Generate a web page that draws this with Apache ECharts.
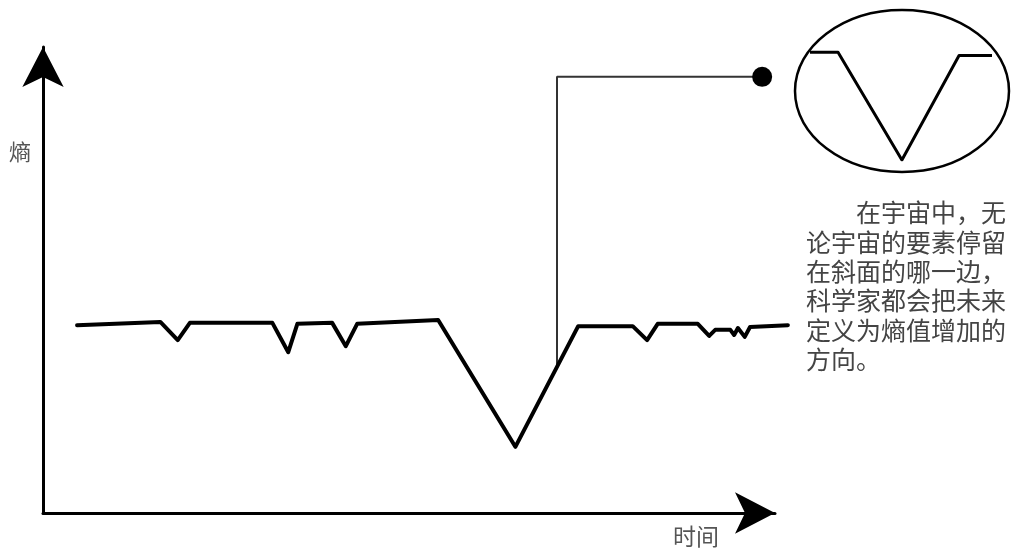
<!DOCTYPE html>
<html>
<head>
<meta charset="utf-8">
<script src="https://cdn.jsdelivr.net/npm/echarts@6/dist/echarts.min.js"></script>
<style>html,body{margin:0;padding:0;background:#fff}#c{width:1013px;height:557px}</style>
</head>
<body>
<div id="c"></div>
<script>
// Entropy over time (arbitrary units 0-100)
const timeValues = [4.5, 15.5, 17.8, 19.4, 30.3, 32.4, 33.6, 38.2, 40.0, 41.5, 52.2, 62.4, 70.7, 77.9, 79.8, 81.2, 86.5, 88.0, 88.8, 90.8, 91.3, 91.8, 92.7, 93.4, 98.4];
const entropyValues = [40.3, 41.0, 37.1, 40.8, 40.8, 34.5, 40.6, 40.8, 35.8, 40.6, 41.4, 14.2, 40.1, 40.1, 37.1, 40.6, 40.6, 38.0, 39.3, 39.3, 38.2, 39.7, 37.8, 39.9, 40.3];
// callout from the big dip (time, entropy)
const calloutTime = [67.9, 67.9, 95.0];
const calloutEntropy = [31.5, 93.6, 93.6];
// magnified inset of the dip
const insetX = [0, 15.4, 50.5, 81.9, 100];
const insetY = [98, 98, 0, 95, 95];
const yAxisLabel = '熵';
const xAxisLabel = '时间';
const noteLines = ['　　在宇宙中，无', '论宇宙的要素停留', '在斜面的哪一边，', '科学家都会把未来', '定义为熵值增加的', '方向。'];

const FONT = '"Noto Sans CJK SC", sans-serif';
const zip = (a, b) => a.map((v, i) => [v, b[i]]);
const hiddenAxis = (gi) => ({ type: 'value', gridIndex: gi, min: 0, max: 100, show: false });

const chart = echarts.init(document.getElementById('c'));
chart.setOption({
  animation: false,
  backgroundColor: '#fff',
  grid: [
    { left: 43, top: 47, right: 238, bottom: 44 },
    { left: 43, top: 47, right: 213, bottom: 44 },
    { left: 810, top: 50, right: 21, bottom: 397 }
  ],
  xAxis: [
    { type: 'value', gridIndex: 0, min: 0, max: 100,
      axisLine: { show: true, onZero: false, symbol: ['none', 'arrow'], symbolSize: [31, 40], lineStyle: { color: '#000', width: 3 } },
      axisTick: { show: false }, axisLabel: { show: false }, splitLine: { show: false } },
    hiddenAxis(1), hiddenAxis(2)
  ],
  yAxis: [
    { type: 'value', gridIndex: 0, min: 0, max: 100,
      axisLine: { show: true, onZero: false, symbol: ['none', 'arrow'], symbolSize: [31, 40], lineStyle: { color: '#000', width: 3 } },
      axisTick: { show: false }, axisLabel: { show: false }, splitLine: { show: false } },
    hiddenAxis(1), hiddenAxis(2)
  ],
  series: [
    { type: 'line', xAxisIndex: 1, yAxisIndex: 1, data: zip(timeValues, entropyValues), showSymbol: false,
      lineStyle: { color: '#000', width: 4, join: 'round', cap: 'round' } },
    { type: 'line', xAxisIndex: 1, yAxisIndex: 1, data: zip(calloutTime, calloutEntropy), showSymbol: false,
      lineStyle: { color: '#333', width: 2 }, z: 1 },
    { type: 'scatter', xAxisIndex: 1, yAxisIndex: 1, data: [[calloutTime[2], calloutEntropy[2]]], symbolSize: 20,
      itemStyle: { color: '#000', opacity: 1 } },
    { type: 'line', xAxisIndex: 2, yAxisIndex: 2, data: zip(insetX, insetY), showSymbol: false,
      lineStyle: { color: '#000', width: 3, join: 'round' } }
  ],
  graphic: [
    { type: 'ellipse', shape: { cx: 902, cy: 91, rx: 107, ry: 81 }, style: { fill: 'none', stroke: '#000', lineWidth: 2.5 } },
    { type: 'text', x: 20, y: 152, style: { text: yAxisLabel, font: '22px ' + FONT, fill: '#555', align: 'center', verticalAlign: 'middle' } },
    { type: 'text', x: 696, y: 536, style: { text: xAxisLabel, font: '23px ' + FONT, fill: '#555', align: 'center', verticalAlign: 'middle' } },
    { type: 'text', x: 806, y: 198, style: { text: noteLines.join('\n'), font: '25px ' + FONT, lineHeight: 29.4, fill: '#444', align: 'left', verticalAlign: 'top' } }
  ]
});
</script>
</body>
</html>
